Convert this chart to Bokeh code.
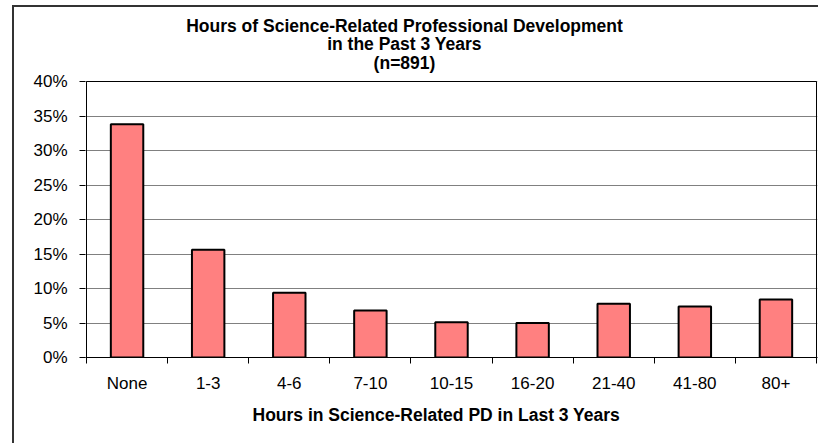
from bokeh.plotting import figure
from bokeh.models import Range1d, FixedTicker, NumeralTickFormatter, Title
from bokeh.core.properties import value
from bokeh.embed import file_html
from bokeh.resources import INLINE

# ---- data ----
categories = ["None", "1-3", "4-6", "7-10", "10-15", "16-20", "21-40", "41-80", "80+"]
share = [0.338, 0.156, 0.094, 0.068, 0.051, 0.050, 0.078, 0.074, 0.084]
y_ticks = [0.0, 0.05, 0.10, 0.15, 0.20, 0.25, 0.30, 0.35, 0.40]
title_lines = ["Hours of Science-Related Professional Development",
               "in the Past 3 Years",
               "(n=891)"]
x_title = "Hours in Science-Related PD in Last 3 Years"

# ---- layout (page pixels) ----
OX, OY = 14, 7                      # canvas origin on page (margin + border)
W, H = 806, 438
BL, BR, BT, BB = 86, 816, 81, 357   # plot box (0..n, 0..40%)
FRAME_TOP = 10                      # frame extends upward to hold the title
FONT = "Liberation Sans"

n = len(categories)
ymax = y_ticks[-1]
px = n / (BR - BL)                  # data units per pixel (x)
py = ymax / (BB - BT)               # data units per pixel (y)

def x_at(page_x):
    return (page_x - BL) * px

def y_at(page_y):
    return (BB - page_y) * py

p = figure(width=W, height=H, output_backend="svg", toolbar_location=None,
           x_range=Range1d(-px, n + px), y_range=Range1d(0, y_at(FRAME_TOP)),
           min_border_left=BL - 1 - OX, min_border_right=W - (BR + 1 - OX),
           min_border_top=FRAME_TOP - OY, min_border_bottom=H - (BB - OY))
p.outline_line_color = None
p.background_fill_color = "white"
p.border_fill_color = "white"
p.styles = {"margin-left": "12px", "margin-top": "5px", "vertical-align": "top",
            "border-top": "2px solid #333333", "border-left": "2px solid #333333"}

centers = [i + 0.5 for i in range(n)]

# grid
p.xgrid.visible = False
p.ygrid.ticker = FixedTicker(ticks=y_ticks)
p.ygrid.grid_line_color = "#808080"
p.ygrid.grid_line_width = 1

# plot box
p.quad(left=[0], right=[n], bottom=[0], top=[ymax], fill_color=None,
       line_color="black", line_width=1)

p.vbar(x=centers, top=share, bottom=0, width=0.4,
       fill_color="#FF8080", line_color="black", line_width=2)

# chart title (inside extended frame, above the plot box)
p.text(x=[x_at(404)] * 3, y=[y_at(25), y_at(43), y_at(62)], text=title_lines,
       text_font=value(FONT), text_font_size=value("17.5px"), text_font_style="bold",
       text_align="center", text_baseline="middle", text_color="black")

# y axis
ya = p.yaxis[0]
ya.ticker = FixedTicker(ticks=y_ticks)
ya.formatter = NumeralTickFormatter(format="0%")
ya.major_tick_in = 0
ya.major_tick_out = 6
ya.minor_tick_line_color = None
ya.major_label_standoff = 12
ya.major_label_text_font = FONT
ya.major_label_text_font_size = "17px"
ya.major_label_text_color = "black"
ya.axis_line_color = None
ya.major_tick_line_color = "black"

# x axis
xa = p.xaxis[0]
xa.ticker = FixedTicker(ticks=centers, minor_ticks=list(range(n + 1)))
xa.major_label_overrides = {float(c): lab for c, lab in zip(centers, categories)}
xa.major_tick_in = 0
xa.major_tick_out = 0
xa.minor_tick_in = 0
xa.minor_tick_out = 6
xa.minor_tick_line_color = "black"
xa.major_label_standoff = 10
xa.major_label_text_font = FONT
xa.major_label_text_font_size = "17px"
xa.major_label_text_color = "black"
xa.axis_line_color = "black"

# x-axis title
p.add_layout(Title(text=x_title, align="left", offset=252 - (BL - 1), standoff=14,
                   text_font=FONT, text_font_size="17.5px", text_font_style="bold",
                   text_color="black"), "below")

open("out.html", "w").write(file_html(p, INLINE))
